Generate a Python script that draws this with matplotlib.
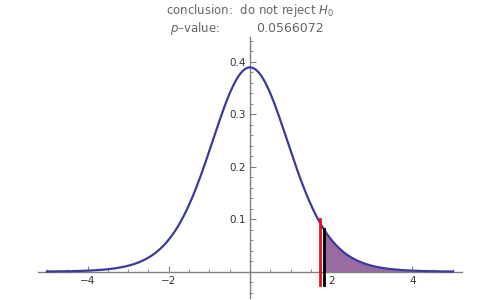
import math
import numpy as np
import matplotlib
matplotlib.use("Agg")
import matplotlib.pyplot as plt
from matplotlib.ticker import MultipleLocator

# Chart parameters
df = 10                 # degrees of freedom of the t distribution
t_stat = 1.73           # test statistic (red line)
t_crit = 1.812          # critical value (black line, start of shaded region)
p_value_text = "0.0566072"
conclusion_text = "do not reject $H_0$"
x_ticks = [-4, -2, 2, 4]
y_ticks = [0.1, 0.2, 0.3, 0.4]
red_top = 0.1

def t_pdf(x, nu):
    c = math.gamma((nu + 1) / 2) / (math.sqrt(nu * math.pi) * math.gamma(nu / 2))
    return c * (1 + x ** 2 / nu) ** (-(nu + 1) / 2)

fig = plt.figure(figsize=(5, 3), dpi=100)
ax = fig.add_axes([0.076, 0.0067, 0.848, 0.870])

x = np.linspace(-5, 5, 801)
y = t_pdf(x, df)

xs = np.linspace(t_crit, 5, 300)
ax.fill_between(xs, 0, t_pdf(xs, df), color="#9a6aa3", lw=0, zorder=2)
ax.plot(x, y, color="#3b3b9a", lw=1.6, zorder=3)

ax.plot([t_stat, t_stat], [-0.025, red_top], color="#e8101a", lw=2.0, zorder=4)
ax.plot([t_crit, t_crit], [-0.025, t_pdf(t_crit, df)], color="black", lw=2.0, zorder=5)

ax.set_xlim(-5.22, 5.22)
ax.set_ylim(-0.05, 0.447)

for s in ["top", "right"]:
    ax.spines[s].set_visible(False)
ax.spines["left"].set_position(("data", 0))
ax.spines["bottom"].set_position(("data", 0))
for s in ["left", "bottom"]:
    ax.spines[s].set_color("#808080")
    ax.spines[s].set_linewidth(1.0)

ax.set_xticks(x_ticks)
ax.set_xticklabels(["\u22124", "\u22122", "2", "4"])
ax.set_yticks(y_ticks)
ax.set_yticklabels(["0.1", "0.2", "0.3", "0.4"])
ax.xaxis.set_minor_locator(MultipleLocator(0.5))
ax.yaxis.set_minor_locator(MultipleLocator(0.02))
ax.tick_params(axis="both", which="major", direction="in", length=4, width=0.8,
               color="#808080", labelsize=7.5, labelcolor="#333333", pad=3)
ax.tick_params(axis="both", which="minor", direction="in", length=2.5, width=0.6,
               color="#808080")
ax.patch.set_alpha(0)

fig.text(0.5, 0.953, "conclusion:  " + conclusion_text, ha="center", va="baseline",
         fontsize=8.5, color="#666666")
fig.text(0.34, 0.892, "$p$\u2013value:", ha="left", va="baseline", fontsize=8.5, color="#666666")
fig.text(0.512, 0.892, p_value_text, ha="left", va="baseline", fontsize=9.0, color="#666666")

fig.savefig("out.png", dpi=100)
